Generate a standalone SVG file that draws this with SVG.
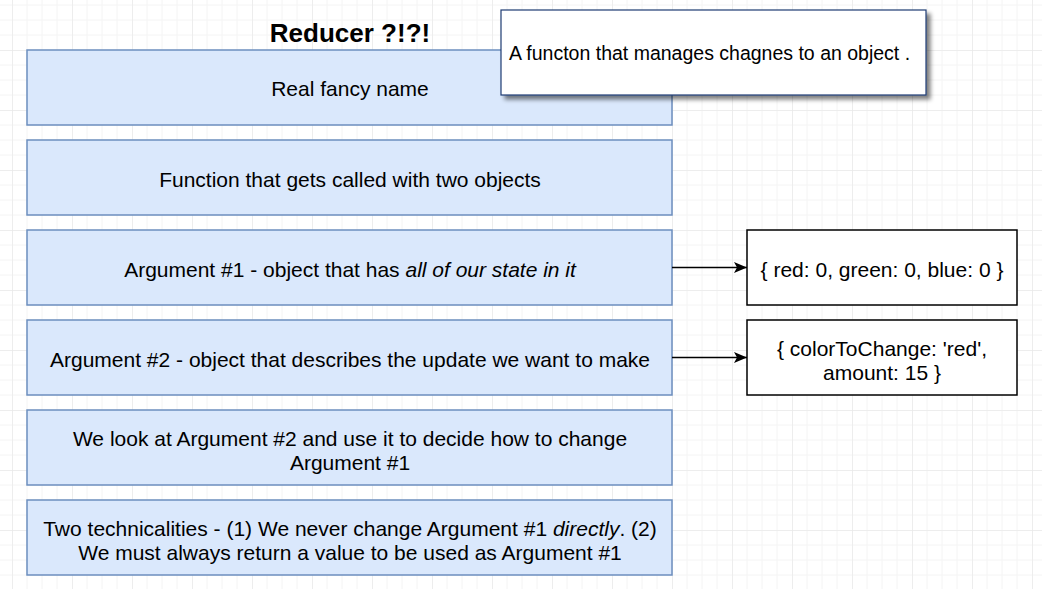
<svg xmlns="http://www.w3.org/2000/svg" width="1042" height="589" viewBox="0 0 1042 589">
<style>
  .box { fill: #dae8fc; stroke: #6c8ebf; stroke-width: 1.5; }
  .obj { fill: #ffffff; stroke: #000000; stroke-width: 1.5; }
  .t { font-family: "Liberation Sans", Arial, sans-serif; font-size: 21px; fill: #000; text-anchor: middle; }
  .title { font-family: "Liberation Sans", Arial, sans-serif; font-size: 26px; font-weight: bold; fill: #000; text-anchor: middle; }
  .tip { font-family: "Liberation Sans", Arial, sans-serif; font-size: 19.5px; fill: #000; }
  .conn { stroke: #000; stroke-width: 1.5; fill: none; }
</style>
<defs>
  <pattern id="grid" x="12" y="50" width="60" height="60" patternUnits="userSpaceOnUse">
    <path d="M15,0 V60 M30,0 V60 M45,0 V60 M0,15 H60 M0,30 H60 M0,45 H60" stroke="#f4f4f4" stroke-width="1" fill="none"/>
    <path d="M0,0 V60 M0,0 H60" stroke="#e8e8e8" stroke-width="1.5" fill="none"/>
  </pattern>
  <marker id="arr" viewBox="0 0 14 12" refX="13" refY="6" markerWidth="14" markerHeight="12" markerUnits="userSpaceOnUse" orient="auto">
    <path d="M0,0.5 L13,6 L0,11.5 L3,6 Z" fill="#000"/>
  </marker>
  <filter id="shadow" x="-10%" y="-20%" width="130%" height="150%">
    <feGaussianBlur in="SourceAlpha" stdDeviation="2"/>
    <feOffset dx="4" dy="4" result="b"/>
    <feComponentTransfer><feFuncA type="linear" slope="0.5"/></feComponentTransfer>
    <feMerge><feMergeNode/><feMergeNode in="SourceGraphic"/></feMerge>
  </filter>
</defs>
<rect width="1042" height="589" fill="#ffffff"/>
<rect width="1042" height="589" fill="url(#grid)"/>

<g id="title"><text class="title" x="350" y="42">Reducer ?!?!</text></g>

<g id="box1"><rect class="box" x="27" y="50" width="645" height="75"/><text class="t" x="350" y="96">Real fancy name</text></g>
<g id="box2"><rect class="box" x="27" y="140" width="645" height="75"/><text class="t" x="350" y="187">Function that gets called with two objects</text></g>
<g id="box3"><rect class="box" x="27" y="230" width="645" height="75"/><text class="t" x="350" y="277">Argument #1 - object that has <tspan font-style="italic">all of our state in it</tspan></text></g>
<g id="box4"><rect class="box" x="27" y="320" width="645" height="75"/><text class="t" x="350" y="367">Argument #2 - object that describes the update we want to make</text></g>
<g id="box5"><rect class="box" x="27" y="410" width="645" height="75"/><text class="t" x="350" y="446">We look at Argument #2 and use it to decide how to change</text><text class="t" x="350" y="470">Argument #1</text></g>
<g id="box6"><rect class="box" x="27" y="500" width="645" height="75"/><text class="t" x="350" y="536">Two technicalities - (1) We never change Argument #1 <tspan font-style="italic">directly</tspan>. (2)</text><text class="t" x="350" y="560">We must always return a value to be used as Argument #1</text></g>

<g id="state"><rect class="obj" x="747" y="230" width="270" height="75"/><text class="t" x="882" y="277">{ red: 0, green: 0, blue: 0 }</text></g>
<g id="action"><rect class="obj" x="747" y="320" width="270" height="75"/><text class="t" x="882" y="356">{ colorToChange: 'red',</text><text class="t" x="882" y="380">amount: 15 }</text></g>

<g id="connectors">
  <line class="conn" x1="672" y1="267.5" x2="747" y2="267.5" marker-end="url(#arr)"/>
  <line class="conn" x1="672" y1="357.5" x2="747" y2="357.5" marker-end="url(#arr)"/>
</g>

<g id="tooltip"><rect x="501" y="10" width="425" height="85" fill="#ffffff" stroke="#1f3b73" stroke-width="1.2" filter="url(#shadow)"/><text class="tip" x="509" y="60">A functon that manages chagnes to an object .</text></g>
</svg>
